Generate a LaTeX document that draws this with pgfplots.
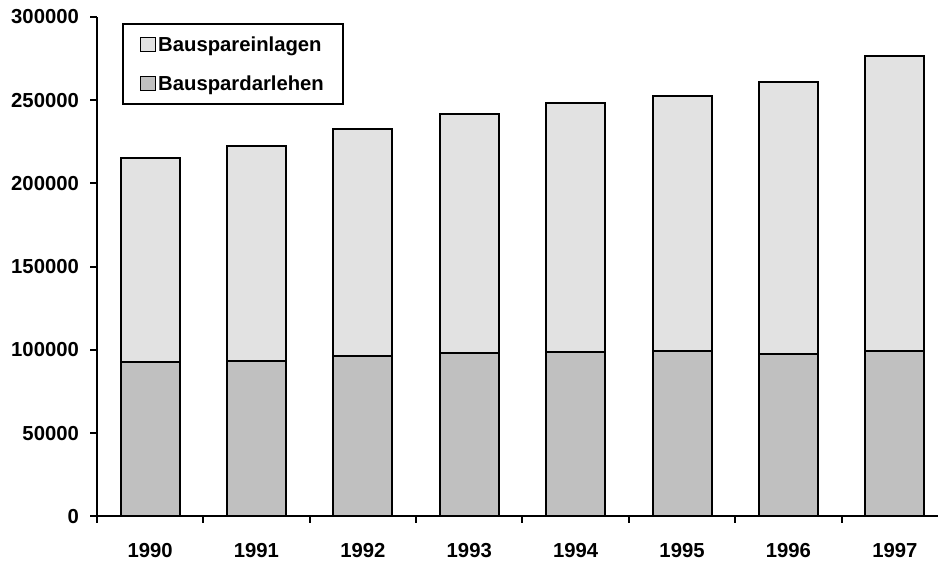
\documentclass[border=0pt]{standalone}
\usepackage{fontspec}
\setmainfont{Liberation Sans}
\usepackage{pgfplots}
\pgfplotsset{compat=1.18}
\definecolor{einl}{RGB}{226,226,226}
\definecolor{darl}{RGB}{192,192,192}
\pgfplotstableread{
x darl einl
0 92800 122400
1 93400 129400
2 96400 136200
3 98200 143400
4 98800 149400
5 99200 153600
6 97800 163400
7 99200 177600
}\data
\pgfplotsset{mylegend/.style={legend image code/.code={\draw[##1,line width=1.4pt] (0pt,-7pt) rectangle (15pt,7pt);}}}
\newcommand\lbl{\fontsize{20.3}{24}\selectfont\bfseries}
\begin{document}
\begin{tikzpicture}
\begin{axis}[name=ax,
 scale only axis, width=842pt, height=500pt,
 xmin=-0.5, xmax=7.406, ymin=0, ymax=300000,
 axis lines=left, axis line style={-, line width=2pt},
 ybar stacked, bar width=59pt,
 xtick={-0.5,0.5,...,6.5}, xticklabels={},
 extra x ticks={0,1,2,3,4,5,6,7},
 extra x tick labels={1990,1991,1992,1993,1994,1995,1996,1997},
 extra x tick style={major tick length=0pt, xticklabel style={yshift=-23pt}},
 ytick={0,50000,...,300000},
 scaled y ticks=false,
 yticklabel style={/pgf/number format/fixed, /pgf/number format/1000 sep={}, xshift=-8pt, font=\lbl},
 xticklabel style={font=\lbl},
 /pgf/number format/assume math mode=true,
 tick label style={font=\lbl},
 tick align=outside, tick style={line width=2pt, black}, major tick length=6.5pt,
 reverse legend,
 legend cell align=left,
 every axis plot post/.append style={mylegend},
 legend style={at={(0.0297,0.988)}, anchor=north west, draw=black, line width=2pt,
   font=\lbl, inner xsep=17pt, inner ysep=10.5pt, row sep=19pt},
]
\addplot[fill=darl, draw=black, line width=2pt] table[x=x,y=darl]{\data};
\addlegendentry{Bauspardarlehen}
\addplot[fill=einl, draw=black, line width=2pt] table[x=x,y=einl]{\data};
\addlegendentry{Bauspareinlagen}
\end{axis}
\path[use as bounding box] ([shift={(-97pt,-45pt)}]ax.south west) rectangle ++(939pt,562pt);
\end{tikzpicture}
\end{document}
